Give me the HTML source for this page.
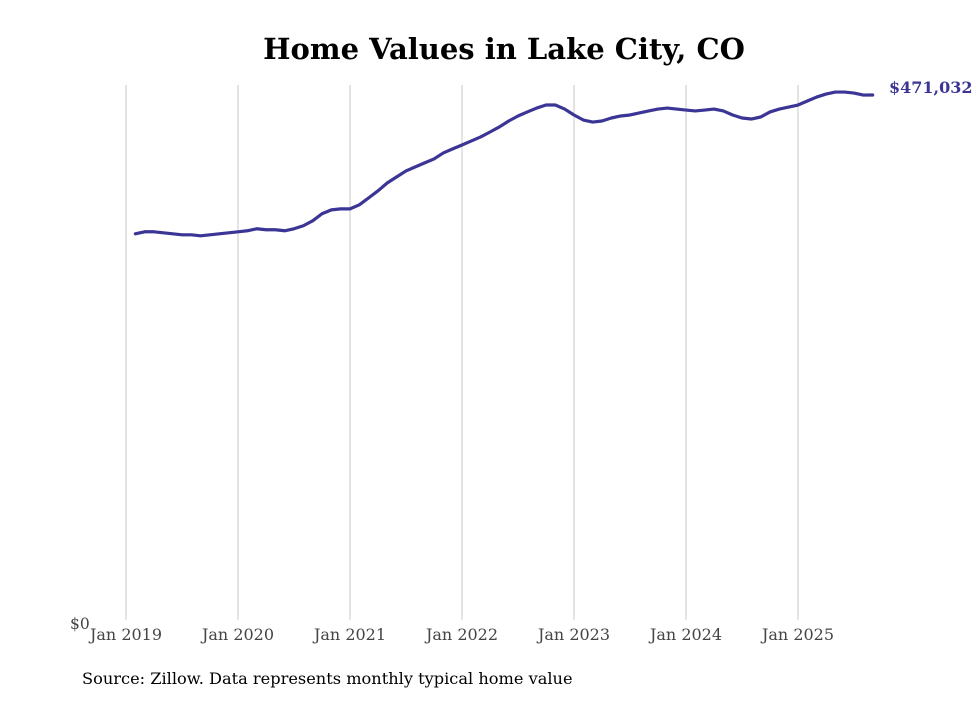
<!DOCTYPE html>
<html><head><meta charset="utf-8">
<style>
body{margin:0;background:#fff;}
svg text{font-family:"DejaVu Serif","Liberation Serif",serif;}
</style></head>
<body>
<svg id="chart" width="980" height="699" viewBox="0 0 980 699" xmlns="http://www.w3.org/2000/svg">
<text x="504" y="59" text-anchor="middle" font-size="29" font-weight="bold" fill="#000">Home Values in Lake City, CO</text>
<g id="grid"></g>
<g id="xticks"></g>
<text x="70" y="629" font-size="15.5" fill="#444">$0</text>
<path id="line" fill="none" stroke="#3b3596" stroke-width="3.2" stroke-linejoin="round" stroke-linecap="round"/>
<text id="endlabel" x="889" y="93" font-size="16" font-weight="bold" fill="#3b3596">$471,032</text>
<text x="82" y="684" font-size="16.2" fill="#000">Source: Zillow. Data represents monthly typical home value</text>
</svg>
<script>
const tickLabels = ["Jan 2019","Jan 2020","Jan 2021","Jan 2022","Jan 2023","Jan 2024","Jan 2025"];
const startMonth = 1; // Feb 2019 (months after Jan 2019)
const values = [
347000,348800,348800,347900,347000,346100,346100,345200,346100,347000,347900,348800,
349700,351500,350600,350600,349700,351500,354200,358600,364900,368400,369300,369300,
372900,379100,385400,392500,397900,403200,406800,410400,413900,419300,422900,426400,
430000,433600,438000,442500,447800,452300,455900,459400,462100,462100,458500,453200,
448700,446900,447800,450500,452300,453200,455000,456800,458500,459400,458500,457600,
456800,457600,458500,456800,453200,450500,449600,451400,455900,458500,460300,462100,
465700,469200,471900,473700,473700,472800,471000,471032];
const yMax = 480000;
const x0 = 126, pxPerMonth = 112/12, yBase = 622, yTop = 85;
const xScale = m => x0 + m*pxPerMonth;
const yScale = v => yBase - v/yMax*(yBase-yTop);
const NS = "http://www.w3.org/2000/svg";
const grid = document.getElementById('grid'), xt = document.getElementById('xticks');
tickLabels.forEach((t,i)=>{
  const x = xScale(i*12);
  const l = document.createElementNS(NS,'line');
  
  
  l.setAttribute('x1',x);l.setAttribute('x2',x);l.setAttribute('y1',yTop);l.setAttribute('y2',yBase-2);
  l.setAttribute('stroke','#c8c8c8');l.setAttribute('stroke-width','1');
  grid.appendChild(l);
  const tx = document.createElementNS(NS,'text');
  
  
  tx.setAttribute('x',x);tx.setAttribute('y',640);tx.setAttribute('text-anchor','middle');
  tx.setAttribute('font-size','16');tx.setAttribute('fill','#444');
  tx.textContent = t;
  xt.appendChild(tx);
});
let d = "";
values.forEach((v,i)=>{ d += (i?"L":"M") + xScale(startMonth+i).toFixed(2) + "," + yScale(v).toFixed(2); });
document.getElementById('line').setAttribute('d', d);
const last = values[values.length-1];
const el = document.getElementById('endlabel');
el.setAttribute('y', yScale(last)-2);
el.textContent = "$" + last.toLocaleString('en-US');
</script>
</body></html>
